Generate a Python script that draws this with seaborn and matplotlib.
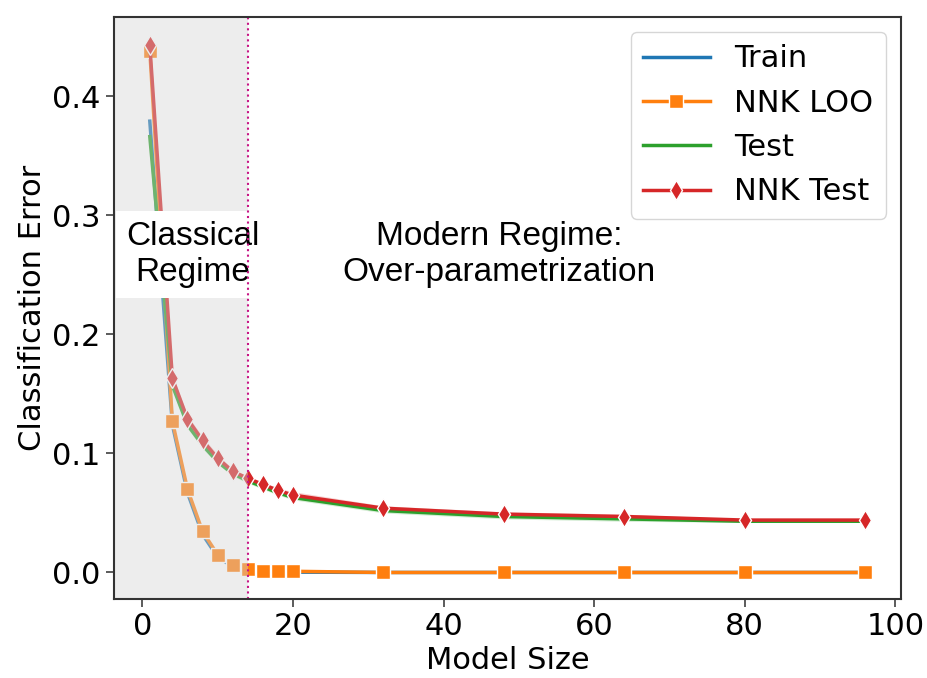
import numpy as np
import pandas as pd
import seaborn as sns
import matplotlib.pyplot as plt

# model sizes and classification errors
sizes = [1, 4, 6, 8, 10, 12, 14, 16, 18, 20, 32, 48, 64, 80, 96]
train_err = [0.379, 0.124, 0.067, 0.032, 0.013, 0.005, 0.002, 0.001, 0.0005, 0.0003, 0.0, 0.0, 0.0, 0.0, 0.0]
nnk_loo_err = [0.438, 0.127, 0.070, 0.0345, 0.015, 0.006, 0.0025, 0.0015, 0.001, 0.001, 0.0, 0.0, 0.0, 0.0, 0.0]
test_err = [0.366, 0.157, 0.124, 0.107, 0.093, 0.083, 0.077, 0.072, 0.067, 0.063, 0.052, 0.047, 0.045, 0.043, 0.043]
nnk_test_err = [0.443, 0.163, 0.129, 0.111, 0.096, 0.085, 0.079, 0.074, 0.069, 0.065, 0.054, 0.049, 0.047, 0.044, 0.044]
# half width of the shaded spread around the test curves
test_band = [0.004, 0.003, 0.003, 0.003, 0.002, 0.002, 0.002, 0.002, 0.002, 0.002, 0.002, 0.002, 0.002, 0.001, 0.001]
nnk_test_band = [0.004, 0.003, 0.003, 0.003, 0.003, 0.002, 0.002, 0.002, 0.002, 0.003, 0.002, 0.002, 0.002, 0.001, 0.001]

classical_end = 14

plt.rcParams['font.family'] = ['DejaVu Sans']
plt.rcParams['font.size'] = 22

colors = sns.color_palette("tab10")

fig = plt.figure(figsize=(9.27, 6.78), dpi=100)
ax = fig.add_axes([0.123, 0.117, 0.849, 0.858])

series = [
    ("Train", train_err, None, None),
    ("NNK LOO", nnk_loo_err, "s", None),
    ("Test", test_err, None, test_band),
    ("NNK Test", nnk_test_err, "d", nnk_test_band),
]

for i, (name, vals, mk, band) in enumerate(series):
    df = pd.DataFrame({"Model Size": sizes, "err": vals})
    kw = dict(marker=mk, markersize=10.5, markeredgecolor="white", markeredgewidth=1) if mk else {}
    sns.lineplot(data=df, x="Model Size", y="err", ax=ax, color=colors[i],
                 linewidth=2.5, label=name, zorder=2, **kw)
    if band is not None:
        lo = np.array(vals) - np.array(band)
        hi = np.array(vals) + np.array(band)
        ax.fill_between(sizes, lo, hi, color=colors[i], alpha=0.2, lw=0, zorder=1)

ax.set_xlim(-3.75, 100.75)
ax.set_ylim(-0.022, 0.4665)

ax.axvspan(-10, classical_end, color="lightgray", alpha=0.4, lw=0, zorder=3)
ax.axvline(classical_end, color="mediumvioletred", linestyle=":", linewidth=1.5, zorder=6)

note_font = ["Liberation Sans", "DejaVu Sans"]
ax.text(6.7, 0.267, "Classical\nRegime", ha="center", va="center", fontsize=24,
        family=note_font, zorder=5, linespacing=1.2, clip_on=True,
        bbox=dict(facecolor="white", edgecolor="none", boxstyle="square,pad=0.3"))
ax.text(47.4, 0.267, "Modern Regime:\nOver-parametrization", ha="center", va="center",
        fontsize=24, family=note_font, zorder=5, linespacing=1.2)

ax.set_xlabel("Model Size", fontsize=22)
ax.set_ylabel("Classification Error", fontsize=22)
ax.set_xticks([0, 20, 40, 60, 80, 100])
ax.set_yticks([0.0, 0.1, 0.2, 0.3, 0.4])
ax.tick_params(labelsize=22, length=6, width=1.2, color="0.25")
for sp in ax.spines.values():
    sp.set_color("0.2")
    sp.set_linewidth(1.5)
    sp.set_zorder(7)

leg = ax.legend(loc="upper right", fontsize=22, handlelength=2.2)
leg.set_zorder(10)

fig.savefig("out.png", dpi=100)
